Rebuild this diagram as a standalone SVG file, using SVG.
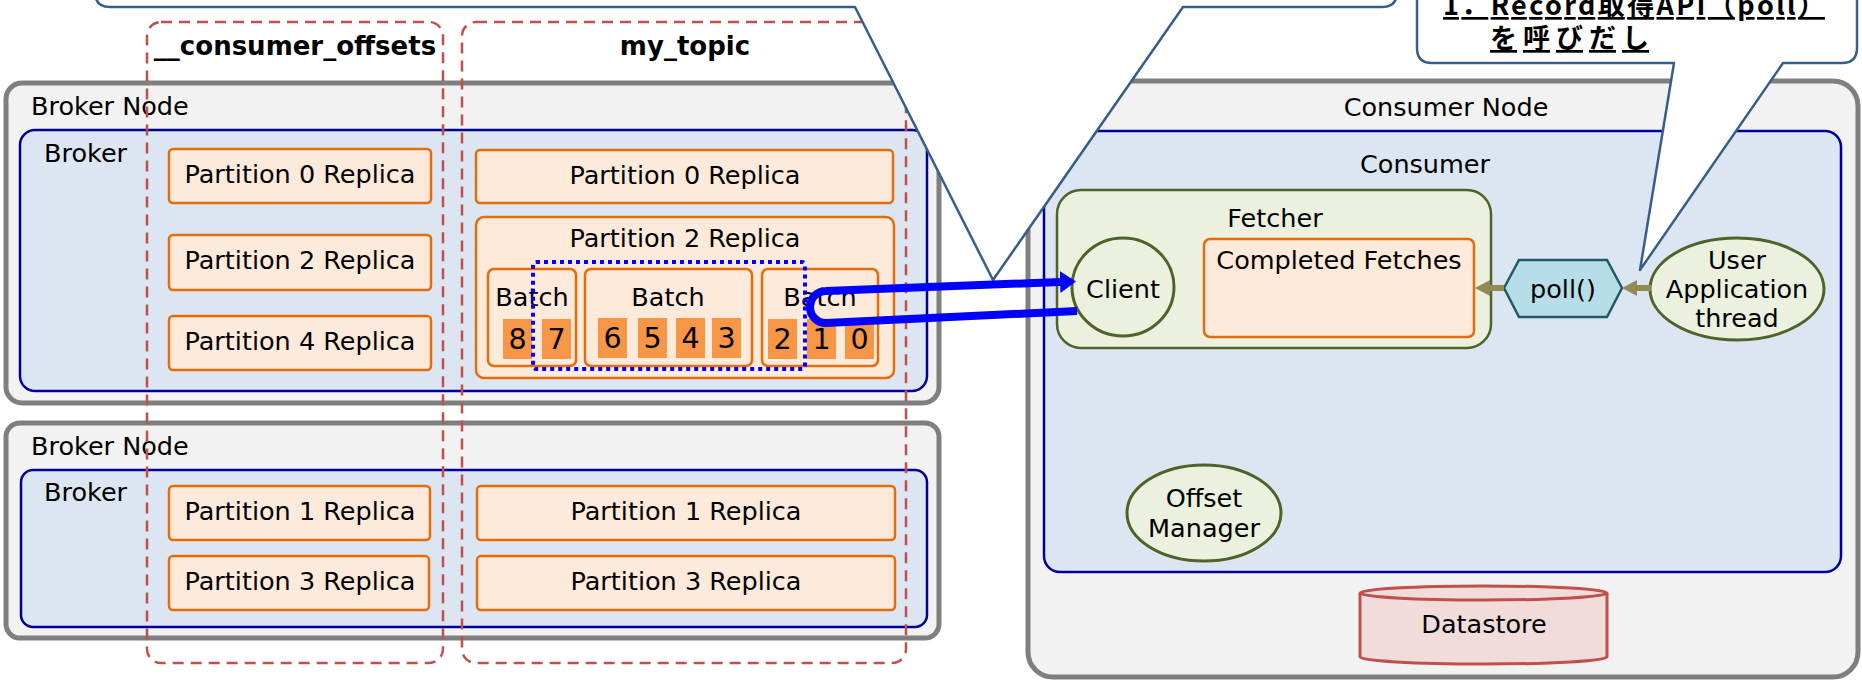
<svg xmlns="http://www.w3.org/2000/svg" width="1862" height="680" viewBox="0 0 1862 680">
<defs>
<style>
text{font-family:"DejaVu Sans","Noto Sans",sans-serif;font-size:25.5px;fill:#000}
.c{text-anchor:middle}
.tb{font-weight:bold;font-size:26px}
.num{font-size:28.5px;text-anchor:middle}
.node{fill:#F2F2F2;stroke:#7F7F7F;stroke-width:5}
.brk{fill:#DCE6F2;stroke:#000099;stroke-width:2.5}
.part{fill:#FDEADA;stroke:#E46C0A;stroke-width:2.5}
.cell{fill:#F79646}
.grn{fill:#EBF1DE;stroke:#4F6228;stroke-width:3}
.topic{fill:none;stroke:#C0504D;stroke-width:2.5;stroke-dasharray:11 7}
.callout{fill:#FFFFFF;stroke:#385D8A;stroke-width:2.5;stroke-linejoin:round}
.jp{font-family:"Noto Sans CJK JP",sans-serif;font-weight:bold;font-size:27px;text-decoration:underline}
.dot{fill:none;stroke:#0000FF;stroke-width:4;stroke-dasharray:4 4}
.blue{fill:none;stroke:#0000FF;stroke-width:8}
.olive{fill:none;stroke:#948A54;stroke-width:6}
</style>
<marker id="blueHead" markerUnits="userSpaceOnUse" markerWidth="18" markerHeight="24" refX="0" refY="11" orient="auto">
<path d="M0,0 L16,11 L0,22 Z" fill="#0000FF"/>
</marker>
<marker id="oliveHead" markerUnits="userSpaceOnUse" markerWidth="18" markerHeight="18" refX="0" refY="8" orient="auto">
<path d="M0,0 L15,8 L0,16 Z" fill="#948A54"/>
</marker>
</defs>

<g id="broker-node-1">
<rect class="node" x="6" y="83" width="933" height="320" rx="16"/>
<text x="31" y="115">Broker Node</text>
</g>
<g id="broker-1">
<rect class="brk" x="20" y="130" width="907" height="261" rx="15"/>
<text x="44" y="162">Broker</text>
</g>
<g id="b1-co-p0"><rect class="part" x="169" y="149" width="262" height="54" rx="4"/><text class="c" x="300" y="183">Partition 0 Replica</text></g>
<g id="b1-co-p2"><rect class="part" x="169" y="235" width="262" height="55" rx="4"/><text class="c" x="300" y="269">Partition 2 Replica</text></g>
<g id="b1-co-p4"><rect class="part" x="169" y="316" width="262" height="54" rx="4"/><text class="c" x="300" y="350">Partition 4 Replica</text></g>
<g id="b1-mt-p0"><rect class="part" x="476" y="150" width="417" height="53" rx="4"/><text class="c" x="685" y="184">Partition 0 Replica</text></g>
<g id="b1-mt-p2">
<rect class="part" x="476" y="217" width="418" height="161" rx="8"/>
<text class="c" x="685" y="247">Partition 2 Replica</text>
</g>
<g id="batch-a">
<rect class="part" x="488" y="269" width="88" height="97" rx="6"/>
<text class="c" x="532" y="306">Batch</text>
<rect class="cell" x="503" y="319" width="29" height="40"/><text class="num" x="517.5" y="349">8</text>
<rect class="cell" x="542" y="319" width="29" height="40"/><text class="num" x="556.5" y="349">7</text>
</g>
<g id="batch-b">
<rect class="part" x="585" y="269" width="167" height="97" rx="6"/>
<text class="c" x="668" y="306">Batch</text>
<rect class="cell" x="598" y="318" width="29" height="40"/><text class="num" x="612.5" y="348">6</text>
<rect class="cell" x="638" y="318" width="29" height="40"/><text class="num" x="652.5" y="348">5</text>
<rect class="cell" x="676" y="318" width="29" height="40"/><text class="num" x="690.5" y="348">4</text>
<rect class="cell" x="712" y="318" width="29" height="40"/><text class="num" x="726.5" y="348">3</text>
</g>
<g id="batch-c">
<rect class="part" x="762" y="269" width="116" height="97" rx="6"/>
<text class="c" x="820" y="306">Batch</text>
<rect class="cell" x="768" y="319" width="29" height="40"/><text class="num" x="782.5" y="349">2</text>
<rect class="cell" x="807" y="319" width="29" height="40"/><text class="num" x="821.5" y="349">1</text>
<rect class="cell" x="845" y="319" width="29" height="40"/><text class="num" x="859.5" y="349">0</text>
</g>
<g id="fetch-range">
<rect class="dot" x="533" y="262" width="272" height="107" rx="3"/>
</g>

<g id="broker-node-2">
<rect class="node" x="6" y="423" width="933" height="215" rx="14"/>
<text x="31" y="455">Broker Node</text>
</g>
<g id="broker-2">
<rect class="brk" x="21" y="470" width="906" height="157" rx="12"/>
<text x="44" y="501">Broker</text>
</g>
<g id="b2-co-p1"><rect class="part" x="169" y="486" width="261" height="54" rx="4"/><text class="c" x="300" y="520">Partition 1 Replica</text></g>
<g id="b2-co-p3"><rect class="part" x="169" y="556" width="260" height="54" rx="4"/><text class="c" x="300" y="590">Partition 3 Replica</text></g>
<g id="b2-mt-p1"><rect class="part" x="477" y="486" width="418" height="54" rx="4"/><text class="c" x="686" y="520">Partition 1 Replica</text></g>
<g id="b2-mt-p3"><rect class="part" x="477" y="556" width="418" height="54" rx="4"/><text class="c" x="686" y="590">Partition 3 Replica</text></g>

<g id="consumer-node">
<rect class="node" x="1028" y="81" width="830" height="596" rx="25"/>
<text class="c" x="1446" y="116">Consumer Node</text>
</g>
<g id="consumer">
<rect class="brk" x="1044" y="131" width="797" height="441" rx="16"/>
<text class="c" x="1425" y="173">Consumer</text>
</g>
<g id="fetcher">
<rect class="grn" x="1057" y="190" width="434" height="158" rx="24" style="stroke-width:2.5"/>
<text class="c" x="1275" y="227">Fetcher</text>
</g>
<g id="client">
<ellipse class="grn" cx="1123" cy="287" rx="51" ry="49"/>
<text class="c" x="1123" y="298">Client</text>
</g>
<g id="completed-fetches">
<rect class="part" x="1204" y="239" width="270" height="98" rx="6"/>
<text class="c" x="1339" y="269">Completed Fetches</text>
</g>
<g id="poll">
<polygon points="1504,288 1519,260 1607,260 1622,288 1607,317 1519,317" fill="#B7DEE8" stroke="#215968" stroke-width="2.5"/>
<text class="c" x="1563" y="298">poll()</text>
</g>
<g id="user-app">
<ellipse class="grn" cx="1737" cy="289" rx="87" ry="51"/>
<text class="c" x="1737" y="269">User</text>
<text class="c" x="1737" y="298">Application</text>
<text class="c" x="1737" y="327">thread</text>
</g>
<g id="offset-manager">
<ellipse class="grn" cx="1204" cy="513" rx="77" ry="48"/>
<text class="c" x="1204" y="507">Offset</text>
<text class="c" x="1204" y="537">Manager</text>
</g>
<g id="datastore">
<path d="M1360,593 L1360,657 A123.5,7 0 0 0 1607,657 L1607,593 A123.5,7 0 0 0 1360,593 Z" fill="#F2DCDB" stroke="#C0504D" stroke-width="3"/>
<path d="M1360,593 A123.5,7 0 0 0 1607,593" fill="none" stroke="#C0504D" stroke-width="3"/>
<text class="c" x="1484" y="633">Datastore</text>
</g>

<g id="topic-consumer-offsets">
<rect class="topic" x="147" y="22" width="296" height="641" rx="14"/>
<text class="c tb" x="295" y="55">__consumer_offsets</text>
</g>
<g id="topic-my-topic">
<rect class="topic" x="462" y="22" width="444" height="641" rx="14"/>
<text class="c tb" x="685" y="55">my_topic</text>
</g>

<g id="callout-left">
<path class="callout" d="M95,-40 L95,-8 Q95,7 110,7 L855,7 L993,280 L1183,7 L1382,7 Q1397,7 1397,-8 L1397,-40 Z"/>
</g>
<g id="callout-right">
<path class="callout" d="M1417,-40 L1417,48 Q1417,63 1432,63 L1674,63 L1640,270 L1783,63 L1842,63 Q1857,63 1857,48 L1857,-40 Z"/>
<text class="jp" x="1443" y="15" textLength="382" lengthAdjust="spacing">1．Record取得API（poll）</text>
<text class="jp" x="1490" y="48" textLength="159" lengthAdjust="spacing">を呼びだし</text>
</g>

<g id="connectors">
<path class="blue" d="M1077,311 L826,323 A16,16 0 0 1 826,291 L1060,282" marker-end="url(#blueHead)"/>
<line class="olive" x1="1504" y1="288" x2="1490" y2="288" marker-end="url(#oliveHead)"/>
<line class="olive" x1="1651" y1="288" x2="1637" y2="288" marker-end="url(#oliveHead)"/>
</g>
</svg>
